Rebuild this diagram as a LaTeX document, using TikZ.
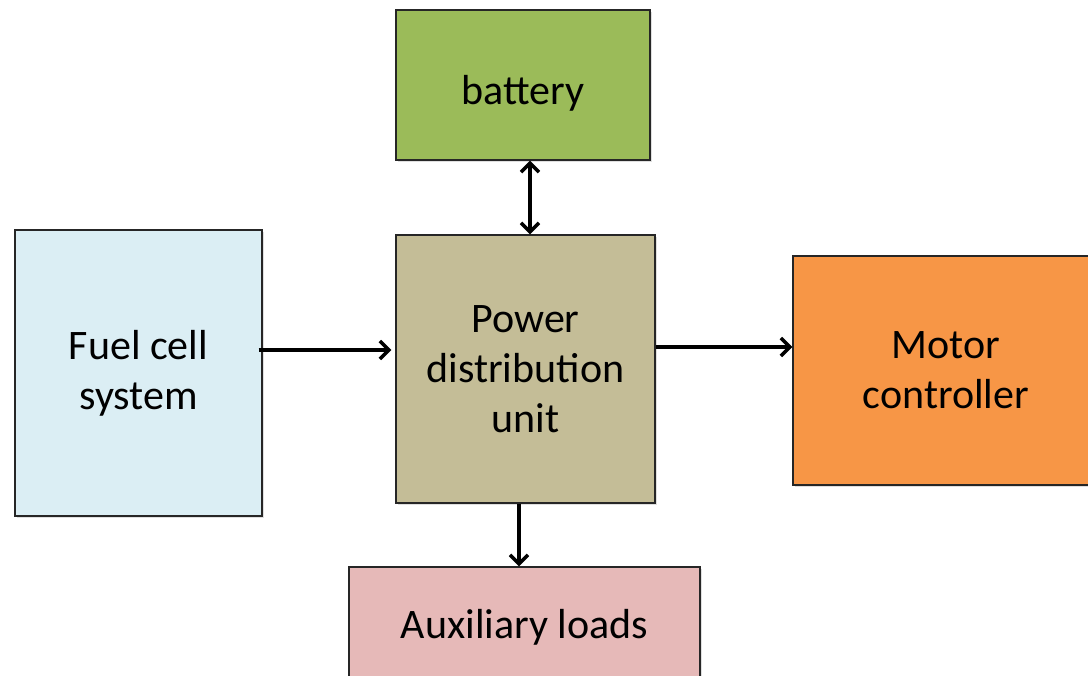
\documentclass[tikz,border=0pt]{standalone}
\usepackage{fontspec}
\setmainfont{Carlito}
\usetikzlibrary{arrows.meta,shadows}

\definecolor{batgreen}{HTML}{9BBB59}
\definecolor{fuelblue}{HTML}{DBEEF4}
\definecolor{pdutan}{HTML}{C4BD97}
\definecolor{motororange}{HTML}{F79646}
\definecolor{auxpink}{HTML}{E6B9B8}

\begin{document}
\begin{tikzpicture}[x=1pt, y=1pt, >={Straight Barb[length=9pt,width=18pt]},
  block/.style={draw=black!85, line width=1.3pt, align=center, inner sep=0pt,
    font=\fontsize{42}{50}\selectfont,
    drop shadow={shadow xshift=1.5pt, shadow yshift=-2pt, opacity=0.25}},
  link/.style={->, line width=3.5pt}]
\useasboundingbox (0,0) rectangle (1088,-676);
\clip (0,0) rectangle (1088,-676);
\node[block, fill=batgreen, minimum width=254pt, minimum height=150pt, text height=40pt, text depth=0pt] (bat) at (523,-85) {battery};
\node[block, fill=fuelblue, minimum width=247pt, minimum height=286pt] (fuel) at (138.5,-373) {Fuel cell\\system};
\node[block, fill=pdutan, minimum width=259pt, minimum height=268pt] (pdu) at (525.5,-369) {Power\\distribution\\unit};
\node[block, fill=motororange, minimum width=306pt, minimum height=229pt] (motor) at (946,-370.5) {Motor\\controller};
\node[block, fill=auxpink, minimum width=351pt, minimum height=120pt] (aux) at (524.5,-627) {Auxiliary loads};
% connectors
\draw[link, <->] ([xshift=7pt]bat.south) -- ([xshift=7pt]bat.south |- pdu.north);
\draw[link] ([xshift=-4pt, yshift=23pt]fuel.east) -- ([xshift=-4pt, yshift=23pt]fuel.east -| pdu.west);
\draw[link] ([yshift=22pt]pdu.east) -- ([yshift=22pt]pdu.east -| motor.west);
\draw[link] ([xshift=-6.5pt]pdu.south) -- ([xshift=-6.5pt]pdu.south |- aux.north);
\end{tikzpicture}
\end{document}
